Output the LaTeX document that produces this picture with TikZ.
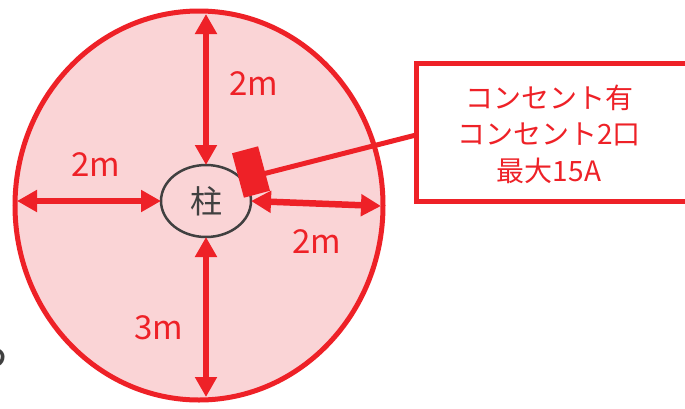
\documentclass[tikz,border=0pt]{standalone}
\usepackage{fontspec}
\setmainfont{Noto Sans CJK JP}
\usetikzlibrary{shapes.geometric,arrows.meta}
\definecolor{cred}{HTML}{EE2127}
\definecolor{cpink}{HTML}{FAD4D6}
\definecolor{cgray}{HTML}{404040}
\tikzset{
  dimarrow/.style={draw=cred,line width=6.5pt,{Triangle[width=21pt,length=20pt]}-{Triangle[width=21pt,length=20pt]}},
  dimlabel/.style={text=cred,font=\fontsize{33}{36}\selectfont,anchor=base,inner sep=0pt},
}
\begin{document}
\begin{tikzpicture}[x=1pt,y=-1pt]
\useasboundingbox[fill=white] (0,0) rectangle (685,408);
% cut-off character at left edge
\node[text=cgray,font=\fontsize{44}{48}\selectfont,anchor=east,inner sep=0pt] (cut) at (12,352) {ら};
% area
\node[ellipse,draw=cred,fill=cpink,line width=5pt,minimum width=368pt,minimum height=389pt,inner sep=0pt,outer sep=0pt] (area) at (199,205.5) {};
% pillar
\node[ellipse,draw=cgray,line width=2.5pt,minimum width=90pt,minimum height=72pt,inner sep=0pt,outer sep=0pt,text=cgray,font=\fontsize{32}{34}\selectfont] (pillar) at (206,201) {柱};
% free ends on the area border
\coordinate (t1) at (206,14);
\coordinate (b1) at (206,397);
\coordinate (l1) at (17,201);
\coordinate (r1) at (381,206);
\draw[dimarrow] (t1) -- (pillar.north);
\draw[dimarrow] (pillar.south) -- (b1);
\draw[dimarrow] (l1) -- (pillar.west);
\draw[dimarrow] (pillar.east) -- (r1);
% labels
\node[dimlabel] (lt) at (253.5,95) {2m};
\node[dimlabel] (ll) at (95.5,176) {2m};
\node[dimlabel] (lr) at (317,253) {2m};
\node[dimlabel] (lb) at (159,339) {3m};
% outlet and callout
\node[fill=cred,rotate=15,minimum width=27pt,minimum height=46pt,inner sep=0pt] (outlet) at (251,172) {};
\node[draw=cred,fill=white,line width=5pt,minimum width=290pt,minimum height=138pt,inner sep=0pt,outer sep=0pt] (box) at (561,132) {};
\draw[cred,line width=5pt] ([yshift=-5pt]outlet.center) -- ([yshift=-3pt]box.west);
\node[text=cred,align=center,font=\fontsize{28}{36.5}\selectfont,inner sep=0pt] (boxtext) at (549,134) {コンセント有\\コンセント2口\\最大15A};
\end{tikzpicture}
\end{document}
